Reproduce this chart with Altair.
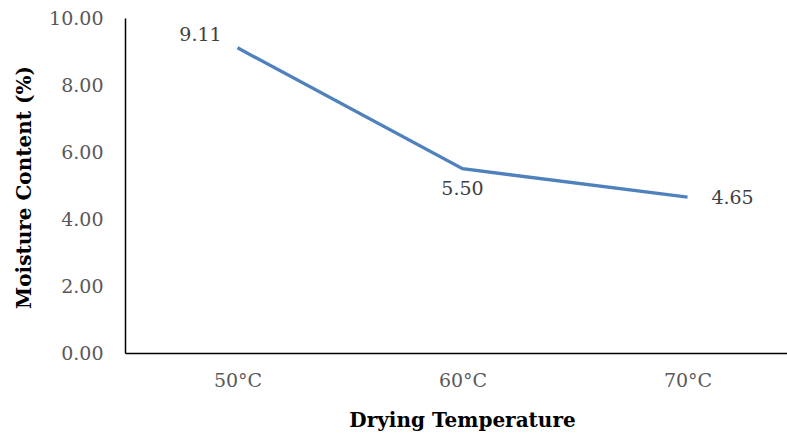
import json
import altair as alt
import pandas as pd

categories = ["50°C", "60°C", "70°C"]
moisture = [9.11, 5.50, 4.65]
y_ticks = [0, 2, 4, 6, 8, 10]

df = pd.DataFrame({
    "idx": list(range(len(categories))),
    "category": categories,
    "moisture": moisture,
})

FONT = "DejaVu Serif"
label_expr = json.dumps(categories, ensure_ascii=False) + "[datum.value]"

x_enc = alt.X(
    "idx:Q",
    scale=alt.Scale(domain=[-0.5, 2.442], nice=False, zero=False),
    axis=alt.Axis(
        values=list(range(len(categories))),
        labelExpr=label_expr,
        title="Drying Temperature",
        grid=False, ticks=False, tickSize=0,
        domainColor="black", domainWidth=1.5,
        labelFont=FONT, labelFontSize=19, labelColor="#595959",
        labelPadding=18, labelBaseline="top",
        titleFont=FONT, titleFontSize=20, titleFontWeight="bold", titleColor="black",
        titleX=337, titleY=67, titleBaseline="middle", titleAlign="center",
    ),
)
y_enc = alt.Y(
    "moisture:Q",
    scale=alt.Scale(domain=[0, 10], nice=False),
    axis=alt.Axis(
        values=y_ticks, format=".2f",
        title="Moisture Content (%)",
        grid=False, ticks=False, tickSize=0,
        domainColor="black", domainWidth=1.5,
        labelFont=FONT, labelFontSize=19, labelColor="#595959",
        labelPadding=22,
        titleFont=FONT, titleFontSize=20, titleFontWeight="bold", titleColor="black",
        titleX=-101, titleY=169, titleBaseline="middle", titleAlign="center", titleAngle=-90,
    ),
)

base = alt.Chart(df)
line = base.mark_line(color="#4F81BD", strokeWidth=3.3).encode(x=x_enc, y=y_enc)

offsets = {"50°C": (-37, -13), "60°C": (0, 20), "70°C": (45, 1)}
texts = []
for cat in categories:
    dx, dy = offsets[cat]
    texts.append(
        base.transform_filter(alt.datum.category == cat)
        .mark_text(font=FONT, fontSize=19, color="#404040", dx=dx, dy=dy, baseline="middle")
        .encode(x="idx:Q", y="moisture:Q", text=alt.Text("moisture:Q", format=".2f"))
    )

chart = alt.layer(line, *texts).properties(
    width=662, height=335,
    autosize=alt.AutoSizeParams(type="none"),
    padding={"left": 125, "top": 18, "right": 0, "bottom": 82},
    background="white",
).configure_view(stroke=None)

chart.save("out.html", embed_options={"renderer": "svg", "actions": False})
